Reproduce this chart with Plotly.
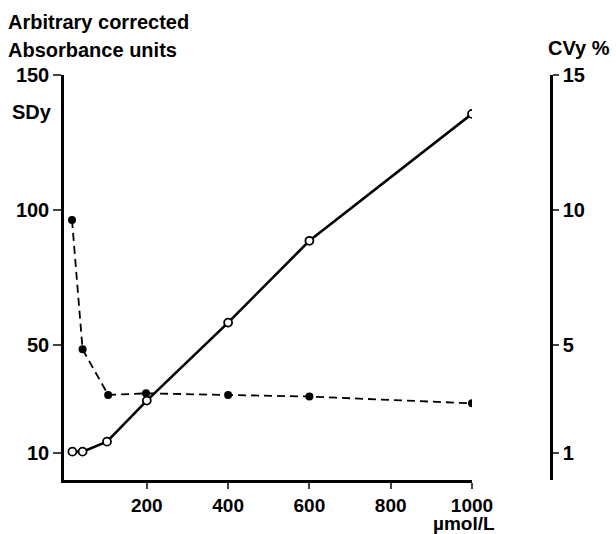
import plotly.graph_objects as go

# Data
conc_sd = [17, 42, 102, 200, 400, 600, 1000]          # µmol/L
sdy = [10.5, 10.5, 14.2, 29.4, 58.3, 88.6, 135.6]      # Arbitrary corrected absorbance units

conc_cv = [16, 42, 105, 198, 400, 600, 1000]           # µmol/L
cvy = [9.63, 4.84, 3.15, 3.21, 3.15, 3.09, 2.84]       # CVy %

x_ticks = [200, 400, 600, 800, 1000]
left_ticks = [10, 50, 100, 150]
right_ticks = [1, 5, 10, 15]

FONT = "Liberation Sans"
FS = 20
W, H = 616, 534
L, R, T, B = 64, 65, 75, 54
pw = W - L - R
ph = H - T - B

def px(x):
    return (x - L) / pw

def py(y):
    return (H - B - y) / ph

fig = go.Figure()

fig.add_trace(go.Scatter(
    x=conc_cv, y=cvy, yaxis="y2", mode="lines+markers",
    line=dict(color="black", width=1.8, dash="8px,5px"),
    marker=dict(symbol="circle", size=8, color="black"),
    showlegend=False,
))
fig.add_trace(go.Scatter(
    x=conc_sd, y=sdy, mode="lines+markers",
    line=dict(color="black", width=2.6),
    marker=dict(symbol="circle", size=8, color="white",
                line=dict(color="black", width=1.8)),
    showlegend=False,
))

tf = dict(family=FONT, size=FS, color="black", weight="bold")
tfx = dict(family=FONT, size=19, color="black", weight="bold")

fig.update_layout(
    width=W, height=H,
    margin=dict(l=L, r=R, t=T, b=B),
    paper_bgcolor="white", plot_bgcolor="white",
    font=dict(family=FONT, color="black"),
    xaxis=dict(
        range=[-3.7, 1000], domain=[0, px(472)],
        tickvals=x_ticks, ticks="outside", ticklen=6, tickwidth=2,
        showline=True, linecolor="black", linewidth=2.5,
        showgrid=False, zeroline=False, tickfont=tfx,
    ),
    yaxis=dict(
        range=[0, 150], tickvals=left_ticks, ticks="outside", ticklen=8,
        tickwidth=2, showline=True, linecolor="black", linewidth=2.5,
        showgrid=False, zeroline=False, tickfont=tf,
    ),
    yaxis2=dict(
        range=[0, 15], tickvals=right_ticks, overlaying="y", side="right",
        anchor="free", position=1, ticks="outside", ticklen=6, tickwidth=2,
        showline=True, linecolor="black", linewidth=2.5,
        showgrid=False, zeroline=False, tickfont=tf,
    ),
)

ann = dict(xref="paper", yref="paper", showarrow=False,
           font=dict(family=FONT, size=FS, color="black", weight="bold"))
fig.add_annotation(text="Arbitrary corrected", x=px(6), y=py(22),
                   xanchor="left", yanchor="middle", **ann)
fig.add_annotation(text="Absorbance units", x=px(6), y=py(50),
                   xanchor="left", yanchor="middle", **ann)
fig.add_annotation(text="SDy", x=px(10), y=py(112),
                   xanchor="left", yanchor="middle", **ann)
fig.add_annotation(text="CVy %", x=px(612), y=py(48),
                   xanchor="right", yanchor="middle", **ann)
fig.add_annotation(text="µmol/L", x=px(497), y=py(536),
                   xanchor="right", yanchor="bottom",
                   xref="paper", yref="paper", showarrow=False,
                   font=dict(family=FONT, size=19, color="black", weight="bold"))

fig.write_html("out.html", config={"displayModeBar": False},
               post_script="document.body.style.margin='0';")
